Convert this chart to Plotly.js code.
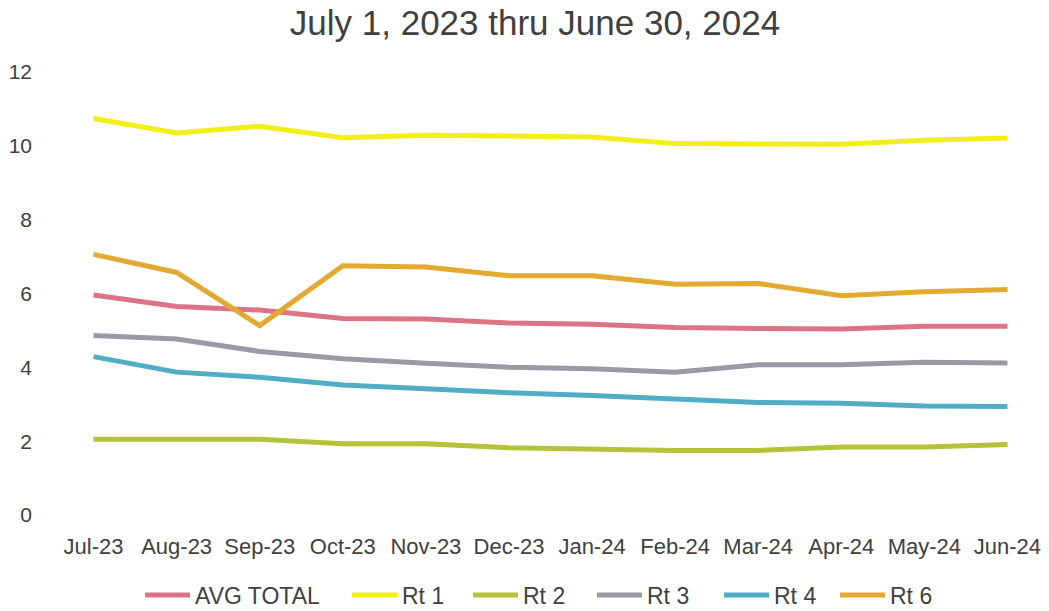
<!DOCTYPE html>
<html>
<head>
<meta charset="utf-8">
<script src="https://cdn.plot.ly/plotly-3.0.1.min.js"></script>
<style>html,body{margin:0;padding:0;background:#fff}#chart{width:1049px;height:611px}</style>
</head>
<body>
<div id="chart"></div>
<script>
const months = ["Jul-23","Aug-23","Sep-23","Oct-23","Nov-23","Dec-23","Jan-24","Feb-24","Mar-24","Apr-24","May-24","Jun-24"];
const avgTotal = [5.96,5.65,5.55,5.32,5.31,5.20,5.17,5.08,5.05,5.04,5.11,5.11];
const rt1 = [10.74,10.35,10.53,10.22,10.29,10.28,10.24,10.06,10.04,10.04,10.15,10.21];
const rt2 = [2.05,2.05,2.05,1.93,1.93,1.82,1.78,1.75,1.75,1.84,1.84,1.91];
const rt3 = [4.86,4.77,4.43,4.23,4.11,4.00,3.96,3.87,4.07,4.07,4.14,4.12];
const rt4 = [4.29,3.87,3.73,3.52,3.42,3.31,3.24,3.16,3.05,3.03,2.95,2.94];
const rt6 = [7.06,6.57,5.13,6.75,6.72,6.48,6.48,6.25,6.27,5.94,6.05,6.11];

const seriesNames = ["AVG TOTAL","Rt 1","Rt 2","Rt 3","Rt 4","Rt 6"];
const seriesData = [avgTotal, rt1, rt2, rt3, rt4, rt6];
const seriesColors = ["#dc7485","#f4ee18","#b4c43a","#9a9aa6","#4fadc6","#e2aa30"];

// legend entry left positions (px) in the container
const legendLeft = [140, 347, 468, 592, 719, 835];
const legendIds = ["legend","legend2","legend3","legend4","legend5","legend6"];

const traces = seriesData.map((y,i)=>({
  type:"scatter", mode:"lines", name:seriesNames[i],
  x:months, y:y, legend:legendIds[i],
  line:{color:seriesColors[i], width:5}
}));

const layout = {
  width:1049, height:611,
  paper_bgcolor:"#fff", plot_bgcolor:"#fff",
  font:{family:"Liberation Sans, Arial, sans-serif", color:"#404040", size:21},
  title:{text:"July 1, 2023 thru June 30, 2024", font:{size:35, color:"#404040"}, x:0.51, xanchor:"center", xref:"container", y:0.962, yanchor:"middle"},
  margin:{l:52, r:0, t:72, b:96},
  showlegend:true,
  xaxis:{type:"category", range:[-0.5,11.5], showgrid:false, zeroline:false, showline:false, ticks:"", ticklabelstandoff:16, tickfont:{size:22, color:"#404040"}},
  yaxis:{range:[0,12], dtick:2, showgrid:false, zeroline:false, showline:false, ticks:"", ticklabelstandoff:19, tickfont:{size:21, color:"#404040"}}
};
legendIds.forEach((id,i)=>{
  layout[id] = {orientation:"h", xref:"container", x:legendLeft[i]/1049, xanchor:"left", yref:"container", y:0.026, yanchor:"middle", itemwidth:45, font:{size:23, color:"#404040"}, bgcolor:"rgba(0,0,0,0)"};
});

Plotly.newPlot("chart", traces, layout, {displayModeBar:false, staticPlot:true});
</script>
</body>
</html>
